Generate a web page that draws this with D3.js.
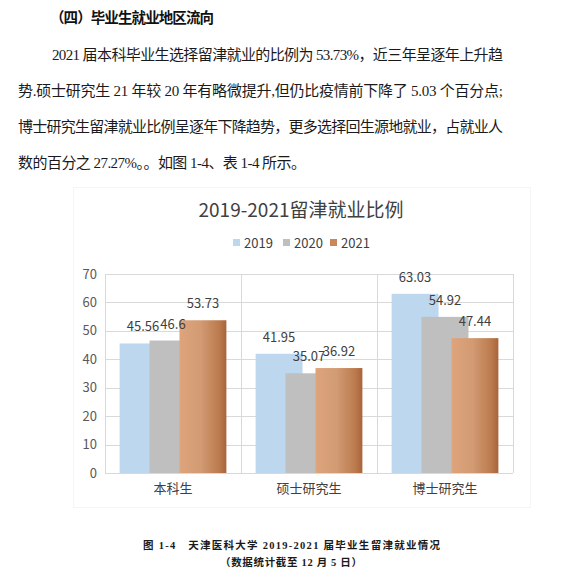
<!DOCTYPE html>
<html>
<head>
<meta charset="utf-8">
<script src="https://cdn.jsdelivr.net/npm/d3@7"></script>
<style>
  body { margin: 0; background: #fff; }
  svg { display: block; }
</style>
</head>
<body>
<div id="container"></div>
<script>
// chart data
const categories = ["本科生", "硕士研究生", "博士研究生"];
const years = ["2019", "2020", "2021"];
const values2019 = [45.56, 41.95, 63.03];
const values2020 = [46.6, 35.07, 54.92];
const values2021 = [53.73, 36.92, 47.44];
const yTicks = [0, 10, 20, 30, 40, 50, 60, 70];

const heading = "（四）毕业生就业地区流向";
const paragraph = [
  "2021 届本科毕业生选择留津就业的比例为 53.73%，近三年呈逐年上升趋",
  "势.硕士研究生 21 年较 20 年有略微提升,但仍比疫情前下降了 5.03 个百分点;",
  "博士研究生留津就业比例呈逐年下降趋势，更多选择回生源地就业，占就业人",
  "数的百分之 27.27%。。如图 1-4、表 1-4 所示。"
];
const chartTitle = "2019-2021留津就业比例";
const captions = [
  "图 1-4   天津医科大学 2019-2021 届毕业生留津就业情况",
  "（数据统计截至 12 月 5 日）"
];

const width = 586;
const height = 581;
const serif = "'Liberation Serif', 'Noto Sans CJK SC', serif";
const sans = "'Noto Sans CJK SC', 'Open Sans', sans-serif";

const svg = d3.create("svg")
    .attr("width", width)
    .attr("height", height);

// document text above the chart
svg.append("text")
    .attr("x", 50)
    .attr("y", 23)
    .attr("font-family", serif)
    .attr("font-weight", "bold")
    .attr("font-size", 14.5)
    .attr("fill", "#111")
    .attr("textLength", 164)
    .attr("lengthAdjust", "spacing")
    .text(heading);

const paraLines = [
  {x: 52, w: 451},
  {x: 18, w: 485},
  {x: 18, w: 485},
  {x: 18, w: 288}
];
svg.append("g")
    .selectAll("text")
    .data(paragraph)
    .join("text")
    .attr("x", (d, i) => paraLines[i].x)
    .attr("y", (d, i) => 60 + i * 36)
    .attr("font-family", serif)
    .attr("font-size", 15)
    .attr("fill", "#1a1a1a")
    .attr("textLength", (d, i) => paraLines[i].w)
    .attr("lengthAdjust", "spacing")
    .text(d => d);

// chart frame
svg.append("rect")
    .attr("x", 73.5)
    .attr("y", 187.5)
    .attr("width", 457)
    .attr("height", 320)
    .attr("fill", "#fff")
    .attr("stroke", "#f5f5f5");

svg.append("text")
    .attr("x", 301)
    .attr("y", 217)
    .attr("text-anchor", "middle")
    .attr("font-family", sans)
    .attr("font-size", 19)
    .attr("fill", "#404040")
    .text(chartTitle);

const marginLeft = 105, marginRight = 513, marginTop = 274, marginBottom = 473;

const x = d3.scaleBand()
    .domain(categories)
    .range([marginLeft, marginRight])
    .padding(0);

const y = d3.scaleLinear()
    .domain([0, 70])
    .range([marginBottom, marginTop]);

// gradient for 2021 bars
const defs = svg.append("defs");
const grad = defs.append("linearGradient")
    .attr("id", "brown")
    .attr("x1", "0%").attr("x2", "100%")
    .attr("y1", "0%").attr("y2", "0%");
grad.append("stop").attr("offset", "0%").attr("stop-color", "#dea57c");
grad.append("stop").attr("offset", "45%").attr("stop-color", "#d29b73");
grad.append("stop").attr("offset", "85%").attr("stop-color", "#bb7a4d");
grad.append("stop").attr("offset", "100%").attr("stop-color", "#a8643a");

const colors = ["#bdd7ee", "#bfbfbf", "url(#brown)"];
const legendColors = ["#bdd7ee", "#bfbfbf", "#c9875a"];

// grid
svg.append("g")
    .selectAll("line")
    .data(yTicks)
    .join("line")
    .attr("x1", marginLeft)
    .attr("x2", marginRight)
    .attr("y1", d => Math.round(y(d)) + 0.5)
    .attr("y2", d => Math.round(y(d)) + 0.5)
    .attr("stroke", "#d9d9d9");

svg.append("g")
    .selectAll("line")
    .data(categories.concat([null]))
    .join("line")
    .attr("x1", (d, i) => Math.round(marginLeft + i * x.bandwidth()) + 0.5)
    .attr("x2", (d, i) => Math.round(marginLeft + i * x.bandwidth()) + 0.5)
    .attr("y1", marginTop)
    .attr("y2", marginBottom)
    .attr("stroke", "#d9d9d9");

// y axis labels
svg.append("g")
    .selectAll("text")
    .data(yTicks)
    .join("text")
    .attr("x", 97)
    .attr("y", d => y(d))
    .attr("dy", "0.35em")
    .attr("text-anchor", "end")
    .attr("font-family", sans)
    .attr("font-size", 13)
    .attr("fill", "#595959")
    .text(d => d);

// bars: overlapping columns
const series = [values2019, values2020, values2021];
const barStep = x.bandwidth() * 0.22;
const barWidth = x.bandwidth() * 0.345;
const groupSpan = barStep * 2 + barWidth;

series.forEach((vals, s) => {
  svg.append("g")
    .selectAll("rect")
    .data(vals)
    .join("rect")
    .attr("x", (d, i) => x(categories[i]) + (x.bandwidth() - groupSpan) / 2 + s * barStep)
    .attr("y", d => y(d))
    .attr("width", barWidth)
    .attr("height", d => y(0) - y(d))
    .attr("fill", colors[s]);
});

series.forEach((vals, s) => {
  svg.append("g")
    .selectAll("text")
    .data(vals)
    .join("text")
    .attr("x", (d, i) => x(categories[i]) + (x.bandwidth() - groupSpan) / 2 + s * barStep + barWidth / 2)
    .attr("y", d => y(d) - 12)
    .attr("text-anchor", "middle")
    .attr("font-family", sans)
    .attr("font-size", 13)
    .attr("fill", "#404040")
    .text(d => d);
});

// category labels
svg.append("g")
    .selectAll("text")
    .data(categories)
    .join("text")
    .attr("x", d => x(d) + x.bandwidth() / 2)
    .attr("y", 493)
    .attr("text-anchor", "middle")
    .attr("font-family", sans)
    .attr("font-size", 13)
    .attr("fill", "#404040")
    .text(d => d);

// legend
const legendX = [233, 283, 330];
const legend = svg.append("g")
    .selectAll("g")
    .data(years)
    .join("g")
    .attr("transform", (d, i) => `translate(${legendX[i]}, 243)`);
legend.append("rect")
    .attr("x", 0)
    .attr("y", -4)
    .attr("width", 7)
    .attr("height", 7)
    .attr("fill", (d, i) => legendColors[i]);
legend.append("text")
    .attr("x", 11)
    .attr("dy", "0.35em")
    .attr("font-family", sans)
    .attr("font-size", 13)
    .attr("fill", "#404040")
    .text(d => d);

// caption
svg.append("text")
    .attr("x", 143)
    .attr("y", 549)
    .attr("font-family", serif)
    .attr("font-weight", "bold")
    .attr("font-size", 10.5)
    .attr("fill", "#1a1a1a")
    .attr("textLength", 297)
    .attr("lengthAdjust", "spacing")
    .style("white-space", "pre")
    .text(captions[0]);
svg.append("text")
    .attr("x", 220)
    .attr("y", 566)
    .attr("font-family", serif)
    .attr("font-weight", "bold")
    .attr("font-size", 10.5)
    .attr("fill", "#1a1a1a")
    .attr("textLength", 142)
    .attr("lengthAdjust", "spacing")
    .text(captions[1]);

d3.select("#container").append(() => svg.node());
</script>
</body>
</html>
